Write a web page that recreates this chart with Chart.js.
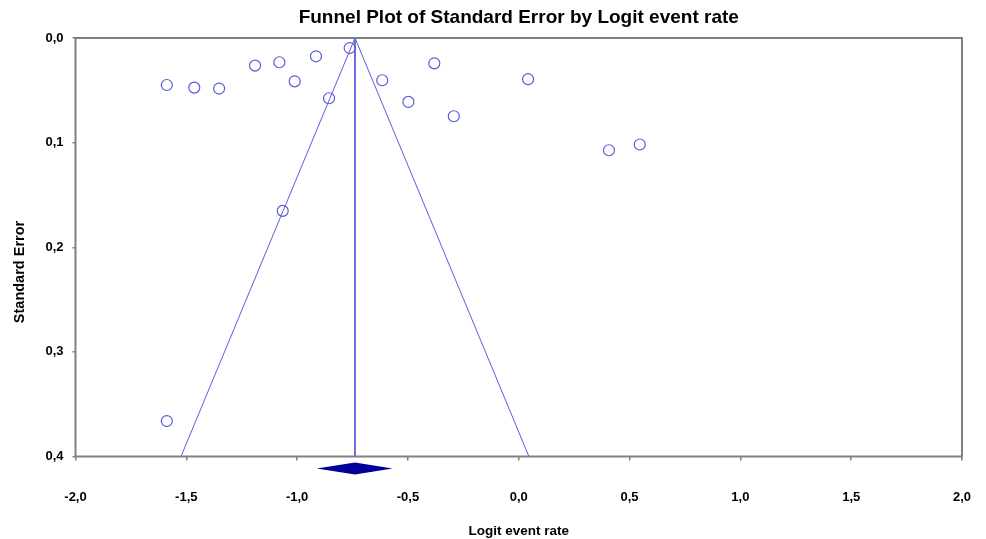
<!DOCTYPE html>
<html>
<head>
<meta charset="utf-8">
<script src="https://cdn.jsdelivr.net/npm/chart.js@4.4.1/dist/chart.umd.min.js"></script>
<style>
  html, body { margin: 0; padding: 0; background: #fff; }
  #wrap { width: 986px; height: 539px; }
</style>
</head>
<body>
<div id="wrap"><canvas id="myChart" width="986" height="539"></canvas></div>
<script>
// studies
var logitRate = [-1.588, -1.464, -1.352, -1.190, -1.080, -1.011, -0.915, -0.856, -0.763, -0.616, -0.498, -0.381, -0.293, 0.042, 0.407, 0.546, -1.065, -1.588];
var stdErr = [0.0449, 0.0474, 0.0483, 0.0264, 0.0232, 0.0414, 0.0175, 0.0576, 0.0096, 0.0404, 0.0611, 0.0242, 0.0748, 0.0394, 0.1073, 0.1018, 0.1652, 0.3661];

// funnel (95% limits) and summary effect
var funnelX = [-1.524, -0.739, 0.046];
var funnelY = [0.4, 0.0, 0.4];
var meanX = -0.739;
var ciLow = -0.912;
var ciHigh = -0.569;

var xTicks = [-2.0, -1.5, -1.0, -0.5, 0.0, 0.5, 1.0, 1.5, 2.0];
var yTicks = [0.0, 0.1, 0.2, 0.3, 0.4];

var chartTitle = 'Funnel Plot of Standard Error by Logit event rate';
var yTitle = 'Standard Error';
var xTitle = 'Logit event rate';

var points = [];
for (let i = 0; i < logitRate.length; i++) {
    points.push({x: logitRate[i], y: stdErr[i]});
}
var funnel = [];
for (let i = 0; i < funnelX.length; i++) {
    funnel.push({x: funnelX[i], y: funnelY[i]});
}

function fmt(v) {
    return v.toFixed(1).replace('.', ',');
}

var FONT = "Arial, 'Liberation Sans', sans-serif";

var frameAndDiamond = {
    id: 'frameAndDiamond',
    afterDraw: function(chart) {
        var ctx = chart.ctx;
        var a = chart.chartArea;
        var xs = chart.scales.x;
        ctx.save();
        ctx.strokeStyle = '#808080';
        ctx.lineWidth = 2;
        ctx.strokeRect(a.left, a.top, a.right - a.left, a.bottom - a.top);

        // summary diamond under the axis
        var cy = a.bottom + 12;
        ctx.fillStyle = '#000099';
        ctx.beginPath();
        ctx.moveTo(xs.getPixelForValue(ciLow), cy);
        ctx.lineTo(xs.getPixelForValue(meanX), cy - 6);
        ctx.lineTo(xs.getPixelForValue(ciHigh), cy);
        ctx.lineTo(xs.getPixelForValue(meanX), cy + 6);
        ctx.closePath();
        ctx.fill();

        // titles
        ctx.fillStyle = '#000';
        ctx.textAlign = 'center';
        ctx.textBaseline = 'middle';
        ctx.font = 'bold 19px ' + FONT;
        ctx.fillText(chartTitle, (a.left + a.right) / 2, 18);
        ctx.translate(20, 272);
        ctx.rotate(-Math.PI / 2);
        ctx.font = 'bold 14.5px ' + FONT;
        ctx.fillText(yTitle, 0, 0);
        ctx.restore();
    }
};

var tickFont = {family: FONT, size: 13, weight: 'bold'};

var ctx = document.getElementById('myChart').getContext('2d');
var myChart = new Chart(ctx, {
    type: 'scatter',
    data: {
        datasets: [{
            label: 'studies',
            data: points,
            pointStyle: 'circle',
            pointRadius: 5.5,
            pointBorderWidth: 1.2,
            borderColor: '#5a5ad8',
            backgroundColor: 'rgba(0,0,0,0)',
            order: 0
        }, {
            label: 'funnel',
            data: funnel,
            showLine: true,
            pointRadius: 0,
            borderColor: '#5c5cdc',
            borderWidth: 1,
            fill: false,
            order: 1
        }, {
            label: 'mean',
            data: [{x: meanX, y: 0}, {x: meanX, y: 0.4}],
            showLine: true,
            pointRadius: 0,
            borderColor: '#5c5cdc',
            borderWidth: 1,
            fill: false,
            order: 1
        }]
    },
    plugins: [frameAndDiamond],
    options: {
        responsive: false,
        animation: false,
        layout: {padding: {left: 0, right: 24, top: 38, bottom: 0}},
        plugins: {
            legend: {display: false},
            tooltip: {enabled: false},
            title: {display: false}
        },
        scales: {
            x: {
                type: 'linear',
                min: -2,
                max: 2,
                afterBuildTicks: function(scale) {
                    scale.ticks = xTicks.map(function(v) { return {value: v}; });
                },
                afterFit: function(scale) {
                    scale.height = 82.5;
                    scale.paddingLeft = 0;
                    scale.paddingRight = 0;
                },
                ticks: {
                    color: '#000',
                    font: tickFont,
                    padding: 29,
                    maxRotation: 0,
                    callback: function(v) { return fmt(v); }
                },
                grid: {display: true, drawOnChartArea: false, drawTicks: true, tickLength: 4, color: '#808080', lineWidth: 1.5},
                border: {display: false},
                title: {
                    display: true,
                    text: xTitle,
                    color: '#000',
                    font: {family: FONT, size: 13.5, weight: 'bold'},
                    padding: {top: 0, bottom: 0}
                }
            },
            y: {
                type: 'linear',
                reverse: true,
                min: 0,
                max: 0.4,
                afterBuildTicks: function(scale) {
                    scale.ticks = yTicks.map(function(v) { return {value: v}; });
                },
                afterFit: function(scale) {
                    scale.width = 75.5;
                    scale.paddingTop = 0;
                    scale.paddingBottom = 0;
                },
                ticks: {
                    color: '#000',
                    font: tickFont,
                    padding: 9,
                    callback: function(v) { return fmt(v); }
                },
                grid: {display: true, drawOnChartArea: false, drawTicks: true, tickLength: 3, color: '#808080', lineWidth: 1.5},
                border: {display: false},
                title: {display: false}
            }
        }
    }
});
</script>
</body>
</html>
